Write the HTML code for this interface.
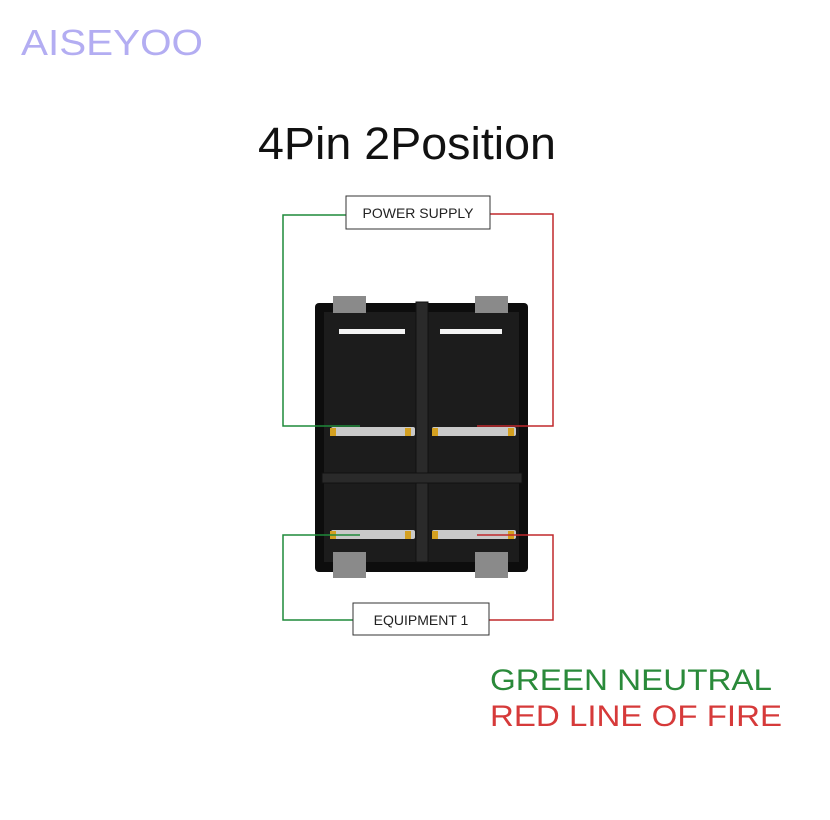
<!DOCTYPE html>
<html><head><style>
body{margin:0;background:#fff;}
svg{display:block}
</style></head><body>
<svg width="830" height="820" viewBox="0 0 830 820" xmlns="http://www.w3.org/2000/svg">
<rect width="830" height="820" fill="#fff"/>
<text x="21" y="55" font-family="Liberation Sans, sans-serif" font-size="36" fill="#b3adf2" textLength="182" lengthAdjust="spacingAndGlyphs">AISEYOO</text>
<text x="258" y="159" font-family="Liberation Sans, sans-serif" font-size="45" fill="#111" textLength="298" lengthAdjust="spacingAndGlyphs">4Pin 2Position</text>
<rect x="315" y="303" width="213" height="269" rx="4" fill="#0d0d0d"/>
<rect x="324" y="312" width="195" height="250" fill="#1c1c1c"/>
<rect x="333" y="296" width="33" height="17" fill="#8a8a8a"/>
<rect x="475" y="296" width="33" height="17" fill="#8a8a8a"/>
<rect x="333" y="552" width="33" height="26" fill="#8a8a8a"/>
<rect x="475" y="552" width="33" height="26" fill="#8a8a8a"/>
<rect x="416" y="302" width="12" height="260" fill="#2a2a2a" stroke="#111" stroke-width="1"/>
<rect x="322" y="473" width="200" height="10" fill="#2a2a2a" stroke="#111" stroke-width="1"/>
<rect x="339" y="329" width="66" height="5" fill="#f4f4f4"/>
<rect x="440" y="329" width="62" height="5" fill="#f4f4f4"/>
<g fill="#c9c9c9">
<rect x="331" y="427" width="84" height="9" rx="2"/>
<rect x="432" y="427" width="84" height="9" rx="2"/>
<rect x="331" y="530" width="84" height="9" rx="2"/>
<rect x="432" y="530" width="84" height="9" rx="2"/>
</g>
<g fill="#d4a020">
<rect x="330" y="428" width="6" height="8"/><rect x="405" y="428" width="6" height="8"/>
<rect x="432" y="428" width="6" height="8"/><rect x="508" y="428" width="6" height="8"/>
<rect x="330" y="531" width="6" height="8"/><rect x="405" y="531" width="6" height="8"/>
<rect x="432" y="531" width="6" height="8"/><rect x="508" y="531" width="6" height="8"/>
</g>
<g fill="none" stroke-width="1.5">
<polyline points="346,215 283,215 283,426 360,426" stroke="#1f8a3a"/>
<polyline points="490,214 553,214 553,426 477,426" stroke="#c0282c"/>
<polyline points="360,535 283,535 283,620 353,620" stroke="#1f8a3a"/>
<polyline points="477,535 553,535 553,620 489,620" stroke="#c0282c"/>
</g>
<rect x="346" y="196" width="144" height="33" fill="#fff" stroke="#333" stroke-width="1"/>
<text x="418" y="218" text-anchor="middle" font-family="Liberation Sans, sans-serif" font-size="14" fill="#222">POWER SUPPLY</text>
<rect x="353" y="603" width="136" height="32" fill="#fff" stroke="#333" stroke-width="1"/>
<text x="421" y="625" text-anchor="middle" font-family="Liberation Sans, sans-serif" font-size="14" fill="#222">EQUIPMENT 1</text>
<text x="490" y="690" font-family="Liberation Sans, sans-serif" font-size="30" fill="#2a8a3a" textLength="282" lengthAdjust="spacingAndGlyphs">GREEN NEUTRAL</text>
<text x="490" y="726" font-family="Liberation Sans, sans-serif" font-size="30" fill="#d63a3a" textLength="292" lengthAdjust="spacingAndGlyphs">RED LINE OF FIRE</text>
</svg>
</body></html>
